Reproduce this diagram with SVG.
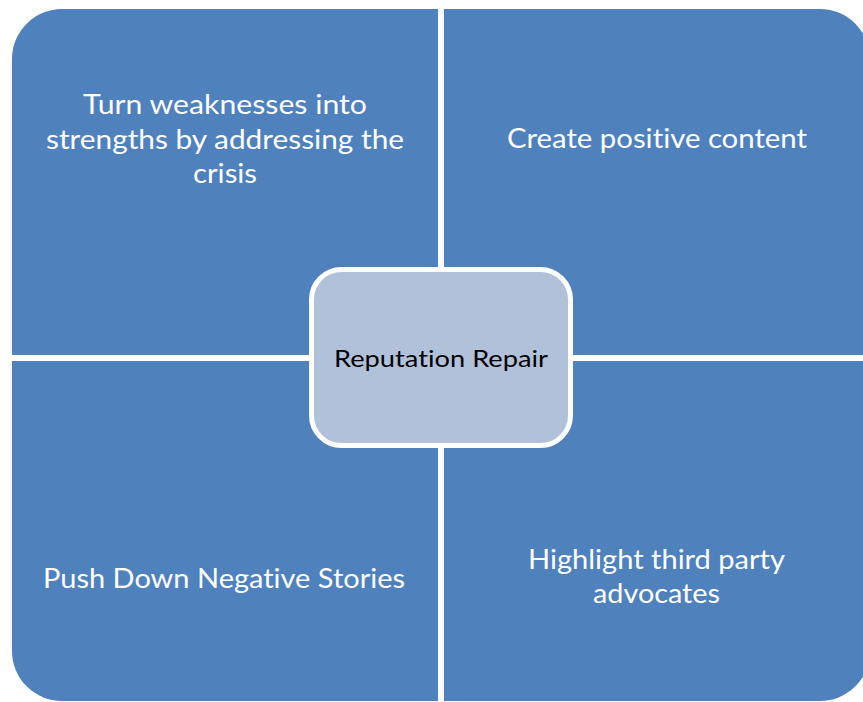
<svg xmlns="http://www.w3.org/2000/svg" width="863" height="702" viewBox="0 0 863 702">
  <style>
    .quad { fill: #4F81BD; }
    .qtext { font-family: Lato, "Open Sans", "Liberation Sans", sans-serif; font-size: 26px; fill: #FFFFFF; text-anchor: middle; font-variant-ligatures: none; }
    .hub { fill: #B2C1DA; stroke: #FFFFFF; stroke-width: 5; }
    .htext { font-family: Lato, "Open Sans", "Liberation Sans", sans-serif; font-size: 24px; fill: #000000; text-anchor: middle; font-variant-ligatures: none; }
  </style>
  <rect width="863" height="702" fill="#FFFFFF"/>

  <g id="quadrant-top-left">
    <path class="quad" d="M12,59 A50,50 0 0 1 62,9 H438 V355 H12 Z"/>
    <text class="qtext" x="225" y="114" textLength="284" lengthAdjust="spacingAndGlyphs">Turn weaknesses into</text>
    <text class="qtext" x="225" y="149" textLength="358" lengthAdjust="spacingAndGlyphs">strengths by addressing the</text>
    <text class="qtext" x="225" y="183" textLength="64" lengthAdjust="spacingAndGlyphs">crisis</text>
  </g>

  <g id="quadrant-top-right">
    <path class="quad" d="M444,9 H820 A50,50 0 0 1 870,59 V355 H444 Z"/>
    <text class="qtext" x="657" y="148" textLength="300" lengthAdjust="spacingAndGlyphs">Create positive content</text>
  </g>

  <g id="quadrant-bottom-left">
    <path class="quad" d="M12,361 H438 V701 H62 A50,50 0 0 1 12,651 Z"/>
    <text class="qtext" x="224" y="588" textLength="362" lengthAdjust="spacingAndGlyphs">Push Down Negative Stories</text>
  </g>

  <g id="quadrant-bottom-right">
    <path class="quad" d="M444,361 H870 V651 A50,50 0 0 1 820,701 H444 Z"/>
    <text class="qtext" x="656.5" y="569" textLength="257" lengthAdjust="spacingAndGlyphs">Highlight third party</text>
    <text class="qtext" x="656.5" y="603" textLength="127" lengthAdjust="spacingAndGlyphs">advocates</text>
  </g>

  <g id="hub">
    <rect class="hub" x="311.5" y="269.5" width="259" height="176" rx="30" ry="30"/>
    <text class="htext" x="441" y="367" textLength="214" lengthAdjust="spacingAndGlyphs">Reputation Repair</text>
  </g>

  <g id="connectors"/>
</svg>
